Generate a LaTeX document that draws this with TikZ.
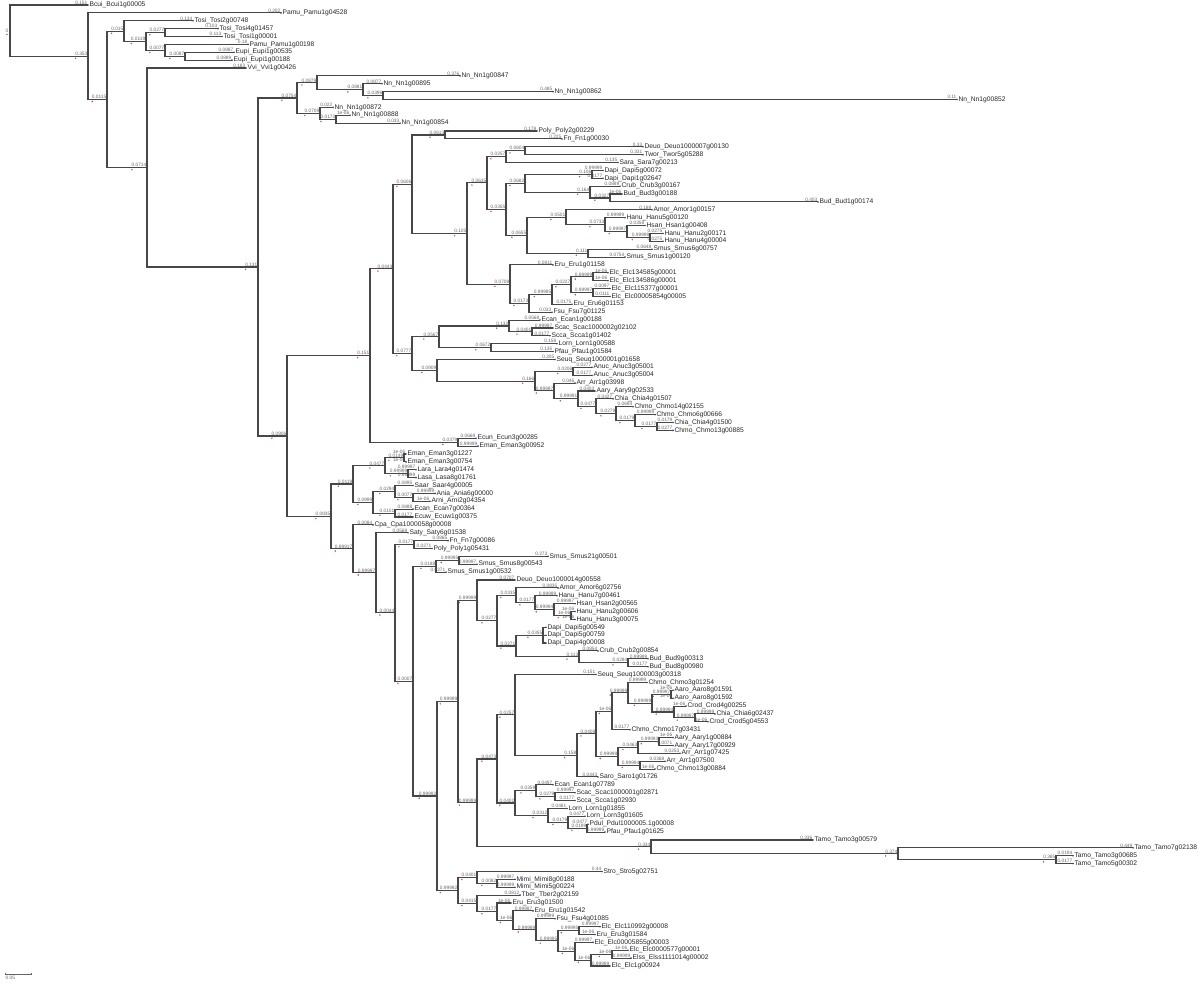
\documentclass[tikz,border=0pt]{standalone}
\usepackage{fontspec}
\setmainfont{Liberation Sans}
\usepackage{tikz}
\usetikzlibrary{calc}
\definecolor{tipblue}{HTML}{2A2AD8}
\definecolor{nodered}{HTML}{D83A3A}

% leaf: id, row, x of branch end, branch label, genus, gene
\newcommand{\leafnode}[6]{%
  \coordinate (#1) at (#3,{5+(#2-1)*7.877});
  \node[blen] (#1-b) at (#1) {#4};
  \fill[tipblue] (#1) circle (0.9);
  \node[tipname] (#1-n) at (#1) {#5\_#6};
}
% clade: id, x, first child, last child, branch label
\newcommand{\clade}[5]{%
  \path let \p1=($(#3)!.5!(#4)$) in (#2,\y1) coordinate (#1);
  \draw[branch] (#3) -| (#1) |- (#4);
  \node[blen] (#1-b) at (#1) {#5};
  \fill[nodered] (#1-b.south west) ++(1,2.2) circle (0.8);
}

\begin{document}
\begin{tikzpicture}[
    x=1pt, y=-1pt,
    branch/.style={draw=black!72, line width=1.1pt},
    blen/.style={font=\fontsize{4.8}{5}\selectfont, text=black!60,
      anchor=south east, inner sep=0.5pt},
    tipname/.style={font=\fontsize{6.7}{6.7}\selectfont, text=black!85,
      anchor=west, inner sep=0.4pt, xshift=1pt},
  ]
  \useasboundingbox (0,0) rectangle (1200,984);

  % leaves, top to bottom
  \leafnode{L1}{1}{88}{0.151}{Bcui}{Bcui1g00005}
  \leafnode{L2}{2}{281}{0.202}{Pamu}{Pamu1g04528}
  \leafnode{L3}{3}{193}{0.134}{Tosi}{Tosi2g00748}
  \leafnode{L4}{4}{218}{0.103}{Tosi}{Tosi4g01457}
  \leafnode{L5}{5}{222}{0.113}{Tosi}{Tosi1g00001}
  \leafnode{L6}{6}{248}{0.18}{Pamu}{Pamu1g00198}
  \leafnode{L7}{7}{234}{0.0887}{Eupi}{Eupi1g00535}
  \leafnode{L8}{8}{232}{0.0889}{Eupi}{Eupi1g00188}
  \leafnode{L9}{9}{246}{0.183}{Vvi}{Vvi1g00426}
  \leafnode{L10}{10}{460}{0.376}{Nn}{Nn1g00847}
  \leafnode{L11}{11}{382}{0.0877}{Nn}{Nn1g00895}
  \leafnode{L12}{12}{553}{0.485}{Nn}{Nn1g00862}
  \leafnode{L13}{13}{957}{3.11}{Nn}{Nn1g00852}
  \leafnode{L14}{14}{333}{0.022}{Nn}{Nn1g00872}
  \leafnode{L15}{15}{350}{1e-06}{Nn}{Nn1g00888}
  \leafnode{L16}{16}{400}{0.033}{Nn}{Nn1g00854}
  \leafnode{L17}{17}{537}{0.178}{Poly}{Poly2g00229}
  \leafnode{L18}{18}{562}{0.225}{Fn}{Fn1g00030}
  \leafnode{L19}{19}{643}{0.33}{Deuo}{Deuo1000007g00130}
  \leafnode{L20}{20}{643}{0.331}{Twor}{Twor5g05288}
  \leafnode{L21}{21}{618}{0.135}{Sara}{Sara7g00213}
  \leafnode{L22}{22}{603}{0.99999}{Dapi}{Dapi5g00072}
  \leafnode{L23}{23}{603}{0.0177}{Dapi}{Dapi1g02647}
  \leafnode{L24}{24}{620}{0.0889}{Crub}{Crub3g00167}
  \leafnode{L25}{25}{622}{1e-06}{Bud}{Bud3g00188}
  \leafnode{L26}{26}{818}{0.403}{Bud}{Bud1g00174}
  \leafnode{L27}{27}{652}{0.188}{Amor}{Amor1g00157}
  \leafnode{L28}{28}{625}{0.99999}{Hanu}{Hanu5g00120}
  \leafnode{L29}{29}{645}{0.0358}{Hsan}{Hsan1g00408}
  \leafnode{L30}{30}{663}{0.0275}{Hanu}{Hanu2g00171}
  \leafnode{L31}{31}{663}{0.0275}{Hanu}{Hanu4g00004}
  \leafnode{L32}{32}{652}{0.0648}{Smus}{Smus6g00757}
  \leafnode{L33}{33}{625}{0.0754}{Smus}{Smus1g00120}
  \leafnode{L34}{34}{553}{0.0811}{Eru}{Eru1g01158}
  \leafnode{L35}{35}{608}{1e-06}{Elc}{Elc134585g00001}
  \leafnode{L36}{36}{608}{1e-06}{Elc}{Elc134586g00001}
  \leafnode{L37}{37}{610}{0.0097}{Elc}{Elc115377g00001}
  \leafnode{L38}{38}{610}{0.0111}{Elc}{Elc00005854g00005}
  \leafnode{L39}{39}{572}{0.0175}{Eru}{Eru6g01153}
  \leafnode{L40}{40}{552}{0.033}{Fsu}{Fsu7g01125}
  \leafnode{L41}{41}{540}{0.0568}{Ecan}{Ecan1g00188}
  \leafnode{L42}{42}{553}{0.99997}{Scac}{Scac1000002g02102}
  \leafnode{L43}{43}{550}{0.0177}{Scca}{Scca1g01402}
  \leafnode{L44}{44}{557}{0.158}{Lorn}{Lorn1g00588}
  \leafnode{L45}{45}{553}{0.135}{Pfau}{Pfau1g01584}
  \leafnode{L46}{46}{555}{0.205}{Seuq}{Seuq1000001g01658}
  \leafnode{L47}{47}{592}{0.0277}{Anuc}{Anuc3g05001}
  \leafnode{L48}{48}{592}{0.0177}{Anuc}{Anuc3g05004}
  \leafnode{L49}{49}{575}{0.046}{Arr}{Arr1g03998}
  \leafnode{L50}{50}{595}{0.0403}{Aary}{Aary9g02533}
  \leafnode{L51}{51}{613}{0.0427}{Chia}{Chia4g01507}
  \leafnode{L52}{52}{633}{0.0694}{Chmo}{Chmo14g02155}
  \leafnode{L53}{53}{655}{0.99999}{Chmo}{Chmo6g00666}
  \leafnode{L54}{54}{673}{0.0179}{Chia}{Chia4g01500}
  \leafnode{L55}{55}{673}{0.0277}{Chmo}{Chmo13g00885}
  \leafnode{L56}{56}{476}{0.0668}{Ecun}{Ecun3g00285}
  \leafnode{L57}{57}{478}{0.99999}{Eman}{Eman3g00952}
  \leafnode{L58}{58}{406}{1e-06}{Eman}{Eman3g01227}
  \leafnode{L59}{59}{406}{1e-06}{Eman}{Eman3g00754}
  \leafnode{L60}{60}{416}{0.99997}{Lara}{Lara4g01474}
  \leafnode{L61}{61}{416}{0.99999}{Lasa}{Lasa8g01761}
  \leafnode{L62}{62}{413}{0.0895}{Saar}{Saar4g00005}
  \leafnode{L63}{63}{435}{0.99999}{Ania}{Ania6g00000}
  \leafnode{L64}{64}{430}{1e-06}{Arni}{Arni2g04354}
  \leafnode{L65}{65}{413}{0.0888}{Ecan}{Ecan7g00364}
  \leafnode{L66}{66}{413}{0.0177}{Ecuw}{Ecuw1g00375}
  \leafnode{L67}{67}{373}{0.0084}{Cpa}{Cpa1000058g00008}
  \leafnode{L68}{68}{408}{0.0568}{Saty}{Saty6g01538}
  \leafnode{L69}{69}{448}{0.0865}{Fn}{Fn7g00086}
  \leafnode{L70}{70}{432}{0.0271}{Poly}{Poly1g05431}
  \leafnode{L71}{71}{548}{0.273}{Smus}{Smus21g00501}
  \leafnode{L72}{72}{477}{0.99997}{Smus}{Smus8g00543}
  \leafnode{L73}{73}{446}{0.0271}{Smus}{Smus1g00532}
  \leafnode{L74}{74}{515}{0.0707}{Deuo}{Deuo1000014g00558}
  \leafnode{L75}{75}{558}{0.0835}{Amor}{Amor6g02756}
  \leafnode{L76}{76}{557}{0.99999}{Hanu}{Hanu7g00461}
  \leafnode{L77}{77}{575}{0.99997}{Hsan}{Hsan2g00565}
  \leafnode{L78}{78}{575}{1e-06}{Hanu}{Hanu2g00606}
  \leafnode{L79}{79}{575}{1e-06}{Hanu}{Hanu3g00075}
  \leafnode{L80}{80}{546}{}{Dapi}{Dapi5g00549}
  \leafnode{L81}{81}{546}{}{Dapi}{Dapi5g00759}
  \leafnode{L82}{82}{546}{}{Dapi}{Dapi4g00008}
  \leafnode{L83}{83}{598}{0.0854}{Crub}{Crub2g00854}
  \leafnode{L84}{84}{648}{0.99999}{Bud}{Bud9g00313}
  \leafnode{L85}{85}{648}{0.0177}{Bud}{Bud8g00980}
  \leafnode{L86}{86}{596}{0.151}{Seuq}{Seuq1000003g00318}
  \leafnode{L87}{87}{647}{0.99999}{Chmo}{Chmo3g01254}
  \leafnode{L88}{88}{673}{1e-06}{Aaro}{Aaro8g01591}
  \leafnode{L89}{89}{673}{1e-06}{Aaro}{Aaro8g01592}
  \leafnode{L90}{90}{686}{1e-06}{Crod}{Crod4g00255}
  \leafnode{L91}{91}{715}{0.99999}{Chia}{Chia6g02437}
  \leafnode{L92}{92}{708}{1e-06}{Crod}{Crod5g04553}
  \leafnode{L93}{93}{630}{0.0177}{Chmo}{Chmo17g03431}
  \leafnode{L94}{94}{673}{1e-06}{Aary}{Aary1g00884}
  \leafnode{L95}{95}{673}{0.0071}{Aary}{Aary17g00929}
  \leafnode{L96}{96}{680}{0.0253}{Arr}{Arr1g07425}
  \leafnode{L97}{97}{665}{0.0368}{Arr}{Arr1g07500}
  \leafnode{L98}{98}{655}{1e-06}{Chmo}{Chmo13g00884}
  \leafnode{L99}{99}{598}{0.0443}{Saro}{Saro1g01726}
  \leafnode{L100}{100}{553}{0.0497}{Ecan}{Ecan1g07789}
  \leafnode{L101}{101}{575}{0.99997}{Scac}{Scac1000001g02871}
  \leafnode{L102}{102}{575}{0.0177}{Scca}{Scca1g02930}
  \leafnode{L103}{103}{567}{0.0481}{Lorn}{Lorn1g01855}
  \leafnode{L104}{104}{585}{0.0477}{Lorn}{Lorn3g01605}
  \leafnode{L105}{105}{588}{0.0477}{Pdul}{Pdul1000005.1g00008}
  \leafnode{L106}{106}{605}{0.99999}{Pfau}{Pfau1g01625}
  \leafnode{L107}{107}{813}{0.336}{Tamo}{Tamo3g00579}
  \leafnode{L108}{108}{1133}{0.449}{Tamo}{Tamo7g02138}
  \leafnode{L109}{109}{1073}{0.0194}{Tamo}{Tamo3g00685}
  \leafnode{L110}{110}{1073}{0.0177}{Tamo}{Tamo5g00302}
  \leafnode{L111}{111}{602}{0.44}{Stro}{Stro5g02751}
  \leafnode{L112}{112}{515}{0.99997}{Mimi}{Mimi8g00188}
  \leafnode{L113}{113}{515}{0.99999}{Mimi}{Mimi5g00224}
  \leafnode{L114}{114}{520}{0.0812}{Tber}{Tber2g02159}
  \leafnode{L115}{115}{511}{1e-06}{Eru}{Eru3g01500}
  \leafnode{L116}{116}{533}{0.99997}{Eru}{Eru1g01542}
  \leafnode{L117}{117}{555}{0.99999}{Fsu}{Fsu4g01085}
  \leafnode{L118}{118}{600}{0.99997}{Elc}{Elc110992g00008}
  \leafnode{L119}{119}{595}{1e-06}{Eru}{Eru3g01584}
  \leafnode{L120}{120}{593}{0.99997}{Elc}{Elc00005855g00003}
  \leafnode{L121}{121}{628}{1e-06}{Elc}{Elc0000577g00001}
  \leafnode{L122}{122}{631}{0.99999}{Elss}{Elss1111014g00002}
  \leafnode{L123}{123}{610}{0.99999}{Elc}{Elc1g00924}

  % clades, children before parents
  \clade{F}{165}{L4}{L5}{0.0277}
  \clade{H}{185}{L7}{L8}{0.0087}
  \clade{G}{165}{L6}{H}{0.0077}
  \clade{E}{146}{F}{G}{0.0119}
  \clade{D}{124}{L3}{E}{0.015}
  \clade{P}{383}{L12}{L13}{0.0396}
  \clade{O}{363}{L11}{P}{0.0881}
  \clade{M}{317}{L10}{O}{0.0879}
  \clade{Q}{336}{L15}{L16}{0.0173}
  \clade{N}{320}{L14}{Q}{0.0709}
  \clade{K}{297}{M}{N}{0.0754}
  \clade{X}{445}{L17}{L18}{0.0613}
  \clade{AD}{525}{L19}{L20}{0.0604}
  \clade{AB}{506}{AD}{L21}{0.0257}
  \clade{AF}{592}{L22}{L23}{0.106}
  \clade{AH}{610}{L25}{L26}{0.0327}
  \clade{AG}{590}{L24}{AH}{0.164}
  \clade{AE}{525}{AF}{AG}{0.0682}
  \clade{AN}{650}{L30}{L31}{0.99999}
  \clade{AM}{627}{L29}{AN}{0.99997}
  \clade{AL}{605}{L28}{AM}{0.0733}
  \clade{AJ}{566}{L27}{AL}{0.0501}
  \clade{AK}{588}{L32}{L33}{0.111}
  \clade{AI}{527}{AJ}{AK}{0.0655}
  \clade{AC}{506}{AE}{AI}{0.0355}
  \clade{Z}{487}{AB}{AC}{0.0635}
  \clade{AR}{593}{L35}{L36}{0.99999}
  \clade{AS}{593}{L37}{L38}{0.99997}
  \clade{AQ}{571}{AR}{AS}{0.0227}
  \clade{AP}{552}{AQ}{L39}{0.99995}
  \clade{AO}{529}{AP}{L40}{0.0173}
  \clade{AA}{510}{L34}{AO}{0.0708}
  \clade{Y}{467}{Z}{AA}{0.105}
  \clade{V}{412}{X}{Y}{0.0606}
  \clade{BE}{532}{L42}{L43}{0.0401}
  \clade{BC}{509}{L41}{BE}{0.132}
  \clade{BD}{491}{L44}{L45}{0.0672}
  \clade{BA}{439}{BC}{BD}{0.0567}
  \clade{BG}{573}{L47}{L48}{0.0206}
  \clade{BM}{657}{L54}{L55}{0.0177}
  \clade{BL}{635}{L53}{BM}{0.0179}
  \clade{BK}{616}{L52}{BL}{0.0279}
  \clade{BJ}{596}{L51}{BK}{0.0477}
  \clade{BI}{578}{L50}{BJ}{0.99991}
  \clade{BH}{554}{L49}{BI}{0.99997}
  \clade{BF}{535}{BG}{BH}{0.166}
  \clade{BB}{437}{L46}{BF}{0.0909}
  \clade{W}{412}{BA}{BB}{0.0777}
  \clade{U}{393}{V}{W}{0.0443}
  \clade{T}{458}{L56}{L57}{0.0379}
  \clade{R}{370}{U}{T}{0.151}
  \clade{CE}{404}{L58}{L59}{0.0149}
  \clade{CF}{408}{L60}{L61}{0.99999}
  \clade{CC}{385}{CE}{CF}{0.0477}
  \clade{CI}{413}{L63}{L64}{0.0077}
  \clade{CG}{395}{L62}{CI}{0.0294}
  \clade{CH}{395}{L65}{L66}{0.0101}
  \clade{CD}{373}{CG}{CH}{0.0999}
  \clade{CA}{353}{CC}{CD}{0.0119}
  \clade{CM}{414}{L69}{L70}{0.0177}
  \clade{CQ}{459}{L71}{L72}{0.99995}
  \clade{CO}{436}{CQ}{L73}{0.0188}
  \clade{DJ}{571}{L78}{L79}{1e-06}
  \clade{DI}{554}{L77}{DJ}{0.99994}
  \clade{DH}{535}{L76}{DI}{0.0177}
  \clade{DF}{516}{L75}{DH}{0.0335}
  \clade{DK}{543}{L80}{L82}{0.0355}
  \draw[branch] (DK) |- (L81);
  \clade{DM}{628}{L84}{L85}{0.0284}
  \clade{DL}{579}{L83}{DM}{0.113}
  \clade{DG}{516}{DK}{DL}{0.0271}
  \clade{DE}{497}{DF}{DG}{0.0277}
  \clade{DC}{477}{L74}{DE}{0.99999}
  \clade{DW}{671}{L88}{L89}{0.99997}
  \clade{DY}{695}{L91}{L92}{0.99997}
  \clade{DX}{674}{L90}{DY}{0.99994}
  \clade{DV}{652}{DW}{DX}{0.99999}
  \clade{DU}{628}{L87}{DV}{0.99999}
  \clade{DS}{612}{DU}{L93}{1e-06}
  \clade{FB}{659}{L94}{L95}{0.99993}
  \clade{DZ}{638}{FB}{L96}{0.0463}
  \clade{FA}{640}{L97}{L98}{0.99994}
  \clade{DT}{618}{DZ}{FA}{0.99999}
  \clade{DR}{596}{DS}{DT}{0.0408}
  \clade{DQ}{577}{DR}{L99}{0.158}
  \clade{DP}{515}{L86}{DQ}{0.0257}
  \clade{FF}{555}{L101}{L102}{0.0279}
  \clade{FD}{536}{L100}{FF}{0.0359}
  \clade{FH}{587}{L105}{L106}{0.0199}
  \clade{FG}{568}{L104}{FH}{0.0179}
  \clade{FE}{548}{L103}{FG}{0.0312}
  \clade{FC}{515}{FD}{FE}{0.0402}
  \clade{DO}{497}{DP}{FC}{0.0473}
  \clade{EB}{1056}{L109}{L110}{0.385}
  \clade{EA}{898}{L108}{EB}{0.374}
  \clade{DN}{651}{L107}{EA}{0.334}
  \clade{DD}{477}{DO}{DN}{0.99999}
  \clade{DA}{458}{DC}{DD}{0.99999}
  \clade{GC}{497}{L112}{L113}{0.0082}
  \clade{GA}{477}{L111}{GC}{0.0401}
  \clade{GK}{612}{L121}{L122}{1e-06}
  \clade{GJ}{591}{GK}{L123}{1e-06}
  \clade{GI}{575}{L120}{GJ}{1e-06}
  \clade{GH}{579}{L118}{L119}{0.99995}
  \clade{GG}{558}{GH}{GI}{0.99995}
  \clade{GF}{536}{L117}{GG}{0.99999}
  \clade{GE}{513}{L116}{GF}{1e-06}
  \clade{GD}{497}{L115}{GE}{0.0177}
  \clade{GB}{477}{L114}{GD}{0.0415}
  \clade{DB}{458}{GA}{GB}{0.99992}
  \clade{CP}{437}{DA}{DB}{0.99992}
  \clade{CN}{413}{CO}{CP}{0.0007}
  \clade{CL}{395}{CM}{CN}{0.0044}
  \clade{CJ}{376}{L68}{CL}{0.99997}
  \clade{CB}{353}{L67}{CJ}{0.99917}
  \clade{S}{331}{CA}{CB}{0.0835}
  \clade{LC}{287}{R}{S}{0.0906}
  \clade{J}{258}{K}{LC}{0.131}
  \clade{I}{147}{L9}{J}{0.0714}
  \clade{C}{107}{D}{I}{0.0115}
  \clade{B}{88}{L2}{C}{0.353}

  % root
  \path let \p1=($(L1)!.5!(B)$) in (10,\y1) coordinate (root);
  \draw[branch] (L1) -| (root) |- (B);
  \node[blen, anchor=east] (root-b) at ([xshift=-1pt]root) {0};
  \fill[nodered] (root-b.south) ++(0,1.5) circle (0.8);

  % scale bar
  \coordinate (sb-a) at (5,974);
  \coordinate (sb-b) at (31,974);
  \draw[black!60, line width=0.6pt] (sb-a) -- (sb-b);
  \draw[black!60, line width=0.6pt] ([yshift=-1.2pt]sb-a) -- ([yshift=1.2pt]sb-a);
  \draw[black!60, line width=0.6pt] ([yshift=-1.2pt]sb-b) -- ([yshift=1.2pt]sb-b);
  \node[blen, anchor=north west] (sb-l) at ([yshift=-1pt]sb-a) {0.05};
\end{tikzpicture}
\end{document}
